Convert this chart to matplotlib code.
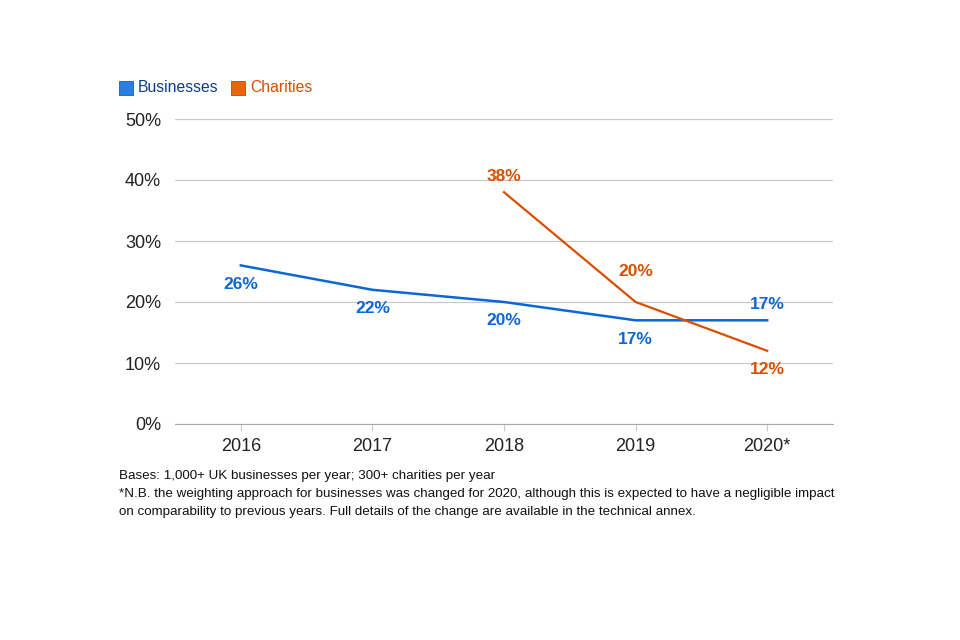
import matplotlib
matplotlib.use("Agg")
import matplotlib.pyplot as plt
from matplotlib.patches import Rectangle

# ── Data ──────────────────────────────────────────────────────────────────────
years      = ["2016", "2017", "2018", "2019", "2020*"]
businesses = [26, 22, 20, 17, 17]
charities  = [None, None, 38, 20, 12]
y_ticks = [0, 10, 20, 30, 40, 50]

# label offsets (in % units) relative to each point
biz_label_dy  = [-3.1, -3.1, -3.1, -3.1, 2.6]
char_label_dy = [None, None, 2.5, 5.0, -3.1]

BIZ_CLR   = "#0b66d6"
CHAR_CLR  = "#d94f00"
GRID_CLR  = "#c8c8c8"
TEXT_CLR  = "#222222"

plt.rcParams["font.family"] = ["Liberation Sans", "DejaVu Sans"]

fig = plt.figure(figsize=(9.6, 6.4), dpi=100)
ax = fig.add_axes([175 / 960, 1 - 424 / 640, (833 - 175) / 960, (424 - 119) / 640])

x = list(range(len(years)))
ax.plot(x, businesses, color=BIZ_CLR, linewidth=1.8)
cx = [i for i, v in enumerate(charities) if v is not None]
cv = [v for v in charities if v is not None]
ax.plot(cx, cv, color=CHAR_CLR, linewidth=1.6)

# data labels
for i, v in enumerate(businesses):
    ax.text(i, v + biz_label_dy[i], f"{v}%", color=BIZ_CLR, fontsize=12.5,
            fontweight="bold", ha="center", va="center")
for i, v in enumerate(charities):
    if v is None:
        continue
    ax.text(i, v + char_label_dy[i], f"{v}%", color=CHAR_CLR, fontsize=12.5,
            fontweight="bold", ha="center", va="center")

ax.set_xlim(-0.5, len(years) - 0.5)
ax.set_ylim(0, 50)
ax.set_yticks(y_ticks)
ax.set_yticklabels([f"{t}%" for t in y_ticks], fontsize=13, color=TEXT_CLR)
ax.set_xticks(x)
ax.set_xticklabels(years, fontsize=13, color=TEXT_CLR)
ax.tick_params(axis="y", length=0, pad=10)
ax.tick_params(axis="x", length=5, color=GRID_CLR, pad=5)
ax.grid(axis="y", color=GRID_CLR, linewidth=0.9)
ax.set_axisbelow(True)
for side in ["top", "left", "right"]:
    ax.spines[side].set_visible(False)
ax.spines["bottom"].set_color("#aaaaaa")

# ── Legend ────────────────────────────────────────────────────────────────────
fig.patches.append(Rectangle((119 / 960, 1 - 95 / 640), 14 / 960, 14 / 640,
                             transform=fig.transFigure, facecolor="#2a7de1",
                             edgecolor="#1a5fb4", linewidth=0.6))
fig.text(138 / 960, 1 - 88 / 640, "Businesses", color="#0b3d91", fontsize=11.3,
         va="center", ha="left")
fig.patches.append(Rectangle((231 / 960, 1 - 95 / 640), 14 / 960, 14 / 640,
                             transform=fig.transFigure, facecolor="#e8650a",
                             edgecolor="#c04a00", linewidth=0.6))
fig.text(250 / 960, 1 - 88 / 640, "Charities", color=CHAR_CLR, fontsize=11.3,
         va="center", ha="left")

# ── Footnote ──────────────────────────────────────────────────────────────────
notes = [
    "Bases: 1,000+ UK businesses per year; 300+ charities per year",
    "*N.B. the weighting approach for businesses was changed for 2020, although this is expected to have a negligible impact",
    "on comparability to previous years. Full details of the change are available in the technical annex.",
]
for k, line in enumerate(notes):
    fig.text(119 / 960, 1 - (476 + 18 * k) / 640, line, fontsize=9.6,
             color="#111111", va="center", ha="left")

fig.savefig("out.png", dpi=100)
